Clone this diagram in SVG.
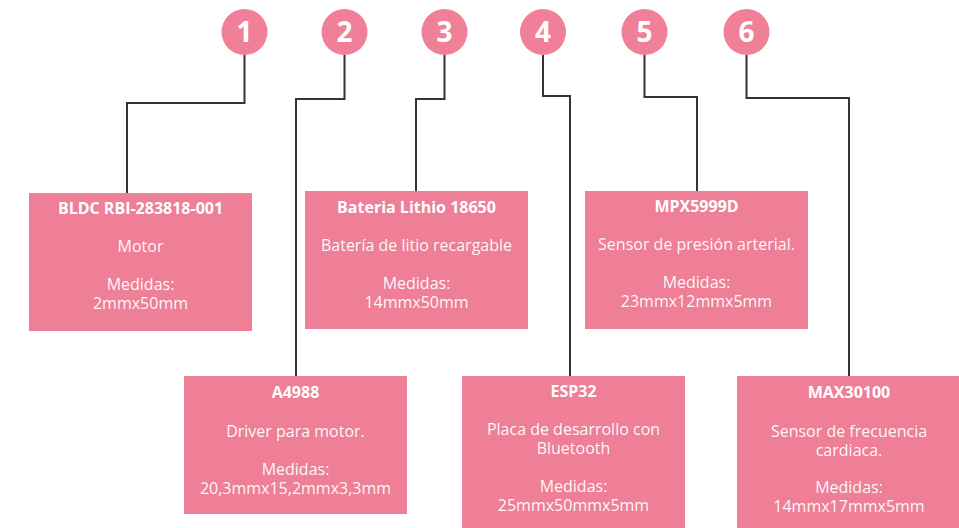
<svg xmlns="http://www.w3.org/2000/svg" width="959" height="528" viewBox="0 0 959 528">
<style>
.box{fill:#EE7F97}
.badge{fill:#EF8098}
.num{font-family:"Open Sans","Liberation Sans",sans-serif;font-weight:bold;font-size:28px;fill:#fff;text-anchor:middle}
.t{font-family:"Open Sans","Liberation Sans",sans-serif;font-weight:bold;font-size:16px;fill:#fff;text-anchor:middle}
.b{font-family:"Open Sans","Liberation Sans",sans-serif;font-size:16px;fill:#fff;fill-opacity:0.95;text-anchor:middle}
.c{fill:none;stroke:#333;stroke-width:2}
</style>
<rect width="959" height="528" fill="#fff"/>
<g id="connectors">
<polyline class="c" points="244.5,55 244.5,103 127,103 127,193"/>
<polyline class="c" points="344.5,55 344.5,99 296,99 296,376"/>
<polyline class="c" points="444.5,55 444.5,99 416,99 416,191"/>
<polyline class="c" points="543,55 543,96 570,96 570,376"/>
<polyline class="c" points="644.5,55 644.5,97 697,97 697,191"/>
<polyline class="c" points="746.5,55 746.5,98 849,98 849,376"/>
</g>
<g id="badge1"><circle class="badge" cx="244.5" cy="32" r="23"/><text class="num" x="244.5" y="42">1</text></g>
<g id="badge2"><circle class="badge" cx="344.5" cy="32" r="23"/><text class="num" x="344.5" y="42">2</text></g>
<g id="badge3"><circle class="badge" cx="444.5" cy="32" r="23"/><text class="num" x="444.5" y="42">3</text></g>
<g id="badge4"><circle class="badge" cx="543" cy="32" r="23"/><text class="num" x="543" y="42">4</text></g>
<g id="badge5"><circle class="badge" cx="644.5" cy="32" r="23"/><text class="num" x="644.5" y="42">5</text></g>
<g id="badge6"><circle class="badge" cx="746.5" cy="32" r="23"/><text class="num" x="746.5" y="42">6</text></g>
<g id="node1">
<rect class="box" x="29" y="193" width="223" height="138"/>
<text class="t" x="140.5" y="214">BLDC RBI-283818-001</text>
<text class="b" x="140.5" y="252">Motor</text>
<text class="b" x="140.5" y="290">Medidas:</text>
<text class="b" x="140.5" y="309">2mmx50mm</text>
</g>
<g id="node3">
<rect class="box" x="305" y="191" width="223" height="138"/>
<text class="t" x="416.5" y="213">Bateria Lithio 18650</text>
<text class="b" x="416.5" y="251">Batería de litio recargable</text>
<text class="b" x="416.5" y="289">Medidas:</text>
<text class="b" x="416.5" y="308">14mmx50mm</text>
</g>
<g id="node5">
<rect class="box" x="585" y="191" width="223" height="138"/>
<text class="t" x="696.5" y="212">MPX5999D</text>
<text class="b" x="696.5" y="250">Sensor de presión arterial.</text>
<text class="b" x="696.5" y="288">Medidas:</text>
<text class="b" x="696.5" y="307">23mmx12mmx5mm</text>
</g>
<g id="node2">
<rect class="box" x="184" y="376" width="223" height="138"/>
<text class="t" x="295.5" y="398">A4988</text>
<text class="b" x="295.5" y="437">Driver para motor.</text>
<text class="b" x="295.5" y="475">Medidas:</text>
<text class="b" x="295.5" y="494">20,3mmx15,2mmx3,3mm</text>
</g>
<g id="node4">
<rect class="box" x="462" y="376" width="223" height="160"/>
<text class="t" x="573.5" y="397">ESP32</text>
<text class="b" x="573.5" y="435">Placa de desarrollo con</text>
<text class="b" x="573.5" y="454">Bluetooth</text>
<text class="b" x="573.5" y="492">Medidas:</text>
<text class="b" x="573.5" y="511">25mmx50mmx5mm</text>
</g>
<g id="node6">
<rect class="box" x="737" y="376" width="224" height="160"/>
<text class="t" x="849" y="398">MAX30100</text>
<text class="b" x="849" y="437">Sensor de frecuencia</text>
<text class="b" x="849" y="456">cardiaca.</text>
<text class="b" x="849" y="493">Medidas:</text>
<text class="b" x="849" y="512">14mmx17mmx5mm</text>
</g>
</svg>
